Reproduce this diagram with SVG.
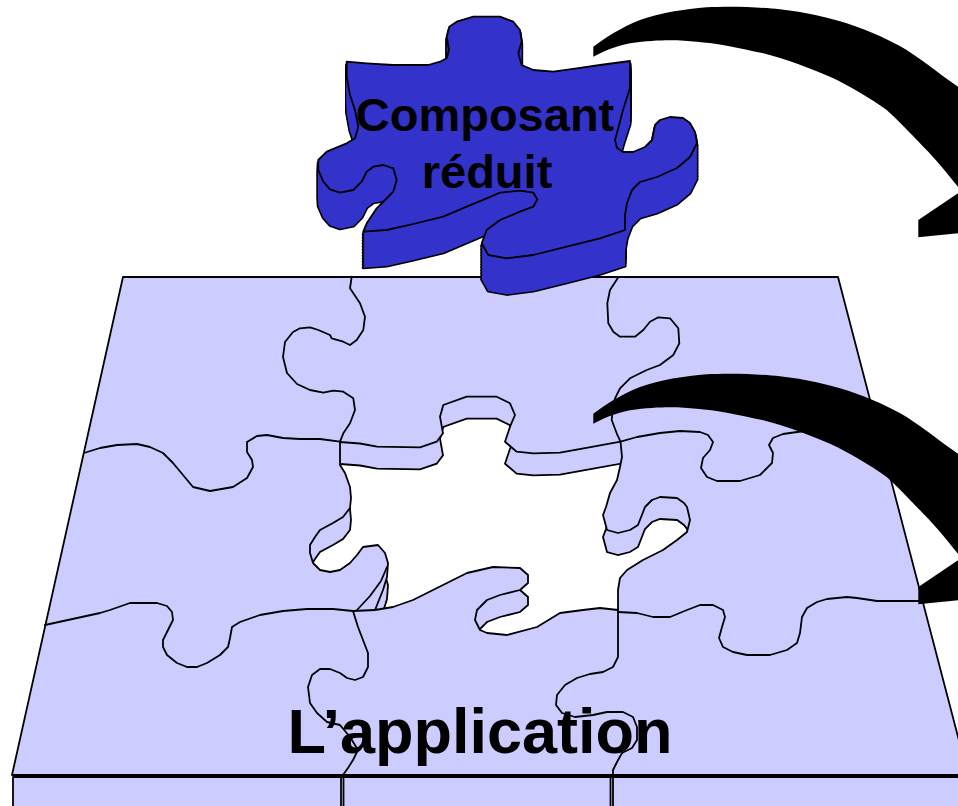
<svg xmlns="http://www.w3.org/2000/svg" xmlns:xlink="http://www.w3.org/1999/xlink" width="958" height="806" viewBox="0 0 958 806">
  <defs>
    <style>
      .face { fill: #CCCCFF; stroke: #000; stroke-width: 1.8; stroke-linejoin: round; }
      .cut { fill: none; stroke: #000; stroke-width: 1.8; stroke-linejoin: round; stroke-linecap: round; }
      .label { font-family: "Liberation Sans", Arial, sans-serif; font-weight: bold; fill: #000; text-anchor: middle; }
      .sil { fill: #000; stroke: #000; stroke-width: 3.2; stroke-linejoin: round; }
      .body { fill: #3333CC; stroke: none; }
      .top { fill: #3333CC; stroke: #000; stroke-width: 1.8; stroke-linejoin: round; }
      .arrow { fill: #000; stroke: none; }
    </style>
    <!-- outline of the missing piece on the board surface -->
    <path id="holeShape" d="M340,442 L360,443.5 L377,446.7 L420,447.3 L436.7,441.7 L443,433.3 L440,416.7 L443.3,405 L466.7,396.7 L496.7,396.7 L510,403.3 L515,415 L510,426.7 L505,441.7 L516.7,451.7 L533.3,453.3 L560,452.7 L593.3,446.7 L620.5,441.7 L622,457 L620,467 L617,480 L610,493 L606,507 L603,515 L607,530 L618,533 L630,530 L638,525 L645,507 L652,500 L660,497 L677,498 L684,503 L687,507 L690,520 L687,532 L677,540 L663,550 L643,560 L627,570 L620,578 L618,590 L618,610 L600,608 L583,610 L560,613 L537,627 L507,635 L487,633 L480,630 L475,620 L477,610 L487,600 L500,595 L520,590 L528,583 L528,575 L520,568 L493,567 L467,573 L433,590 L413,600 L393,607 L375,610 L383,590 L387,577 L388,563 L385,553 L378,545 L363,547 L357,555 L350,563 L340,570 L330,572 L320,570 L313,563 L310,553 L310,545 L315,537 L320,530 L333,523 L343,517 L350,508 L351,498 L350,487 L345,473 L340,465 Z"/>
    <clipPath id="holeClip">
      <use xlink:href="#holeShape"/>
    </clipPath>
    <!-- top face of the loose piece -->
    <path id="pieceShape" d="M346.7,61.7 L366.7,63.3 L393.3,65 L428.3,65 L440,61.7 L446.7,58.3 L449,50 L446.7,36.7 L449.3,26.7 L456.7,21.7 L473.3,16.7 L500,16.7 L513.3,21.7 L520,30 L521.7,41.7 L518.3,53.3 L521.7,65 L533.3,70 L553.3,71.7 L576.7,68.3 L600,65 L630,61 L630,88 L623,110 L617,133 L615,140 L617,148 L623,152 L633,152 L645,147 L652,140 L655,125 L660,120 L670,117 L683,118 L690,123 L695,132 L697,143 L690,157 L677,168 L657,177 L640,182 L632,190 L627,203 L625,215 L625,230 L600,238.3 L566.7,246.7 L533.3,255 L506.7,258.3 L488.3,255 L481.7,243.3 L486.7,230 L500,220 L520,211.7 L533.3,206.7 L537.3,199.3 L533.3,192.7 L520,190.7 L500,192.7 L486.7,198.3 L466.7,206.7 L443.3,216.7 L413.3,224 L386.7,230 L363.3,231.7 L366.7,223.3 L376.7,208.3 L385,200 L393.3,191.7 L396.7,180 L393.3,168.3 L383.3,165 L373.3,166.7 L366.7,171.7 L361.7,181.7 L353.3,190 L340,192.7 L330,189.3 L323.3,181.7 L318.3,170 L318.3,160 L326.7,151.7 L346.7,143.3 L355,138.3 L358.3,126.7 L355,110 L350,95 L346.7,76.7 Z"/>
    <!-- curved black arrow -->
    <path id="arrowShape" d="M593.3,46.7 C605,38 620,28 640,20 C660,13 685,9 706.7,7.3 C730,6 760,7 780,9.3 C805,12 830,18 846.7,23.3 C870,31 890,40 906.7,50 C925,62 945,78 958,86.7 L985,108 L1005,140 L1005,230 L958,233.3 L918.3,237.3 L918.3,220 L958,193.3 L963,190 L958,186.7 C950,177 935,158 923.3,146.7 C910,133 898,120 886.7,110 C870,98 850,86 830,76.7 C810,68 785,59 763.3,53.3 C740,48 715,43 696.7,41.7 C680,40 660,39 630,43.3 C615,46 600,53 593.3,56.7 Z"/>
  </defs>

  <!-- the assembled board -->
  <g id="board">
    <path class="face" d="M123,277 L838,277 L968,775 L12,775 Z"/>
    <!-- opening left by the missing piece: floor seen through, with walls -->
    <g clip-path="url(#holeClip)">
      <use xlink:href="#holeShape" transform="translate(0,22)" fill="#FFFFFF" stroke="#000" stroke-width="1.8"/>
    </g>
    <use xlink:href="#holeShape" fill="none" stroke="#000" stroke-width="1.8" stroke-linejoin="round"/>
    <path class="cut" d="M357,610 L370,596 L381,581 L387,567"/>
    <!-- cut lines between the pieces -->
    <path class="cut" d="M351.7,276.7 L350,288.3 L360,303.3 L365,316.7 L363.3,330 L356.7,340 L350,345 L343.3,341.7 L331.7,338.3 L330,335 L318.3,330 L310,327.3 L300,328.3 L293,332 L285,342 L283,357 L287,373 L297,384 L310,390 L323.3,392.7 L333.3,390.7 L343.3,391.7 L353.3,398.3 L355,410 L350,423.3 L343.3,433.3 L340,441.7"/>
    <path class="cut" d="M618.3,277.3 L610,290 L607.3,303.3 L608.3,323.3 L613.3,331.7 L620,336.7 L635,336.7 L643.3,330 L650,321.7 L658.3,317.3 L670,318.3 L678.3,328.3 L679.3,343.3 L673.3,355 L660,365 L646.7,370 L630,378.3 L620,388.3 L615,398.3 L612.7,410 L611.7,420 L616.7,433.3 L620.5,441.7"/>
    <path class="cut" d="M84,453 L100,448 L117,445 L137,444 L150,447 L163,453 L173,463 L183,475 L193,487 L210,491 L233,487 L247,478 L253,467 L252,460 L247,452 L247,442 L257,436 L267,435 L283,438 L300,439 L320,439 L340,441.7"/>
    <path class="cut" d="M620.5,441.7 L637,437 L660,433 L680,431 L700,432 L708,435 L713,442 L710,450 L703,458 L701,468 L707,477 L717,481 L740,481 L760,475 L772,463 L773,453 L769,445 L773,438 L783,434 L797,432 L830,428 L876,423"/>
    <path class="cut" d="M45,625 L100,613 L110,610 L130,603 L157,603 L167,606 L172,612 L173,620 L168,630 L163,640 L163,647 L167,655 L177,663 L187,667 L197,667 L207,663 L220,655 L228,647 L230,638 L232,627 L240,622 L260,615 L283,611 L307,609 L333,609 L353,611 L375,610"/>
    <path class="cut" d="M353,611 L358,627 L363,640 L368,653 L368,667 L363,677 L355,680 L347,678 L340,673 L330,669 L320,669 L312,675 L308,687 L310,703 L317,713 L327,722 L340,725 L350,737 L358,750 L353,760 L348,768 L343,775"/>
    <path class="cut" d="M618,610 L618,640 L618,657 L613,667 L603,672 L590,674 L577,678 L565,685 L557,695 L556,705 L562,713 L575,717 L593,715 L607,712 L623,712 L633,717 L637,727 L637,740 L632,748 L622,753 L617,762 L613,770 L613,775"/>
    <path class="cut" d="M618,612 L637,613 L653,617 L670,617 L687,610 L700,605 L713,605 L723,610 L725,617 L722,627 L719,638 L723,647 L733,652 L747,655 L770,655 L787,650 L797,643 L800,633 L802,617 L807,608 L817,602 L827,599 L847,597 L857,598 L877,601 L923,601"/>
    <!-- front edge of the board -->
    <path class="face" d="M13,777 L975,777 L975,812 L13,812 Z"/>
    <path class="cut" d="M341,777 L341,806 M343.5,777 L343.5,806 M610.5,777 L610.5,806 M613,777 L613,806"/>
    <text class="label" x="480" y="753" font-size="63">L’application</text>
  </g>

  <!-- the loose piece, extruded downwards -->
  <g id="piece">
    <g>
      <use xlink:href="#pieceShape" class="sil" transform="translate(0,36)"/>
      <use xlink:href="#pieceShape" class="sil" transform="translate(0,33)"/>
      <use xlink:href="#pieceShape" class="sil" transform="translate(0,30)"/>
      <use xlink:href="#pieceShape" class="sil" transform="translate(0,27)"/>
      <use xlink:href="#pieceShape" class="sil" transform="translate(0,24)"/>
      <use xlink:href="#pieceShape" class="sil" transform="translate(0,21)"/>
      <use xlink:href="#pieceShape" class="sil" transform="translate(0,18)"/>
      <use xlink:href="#pieceShape" class="sil" transform="translate(0,15)"/>
      <use xlink:href="#pieceShape" class="sil" transform="translate(0,12)"/>
      <use xlink:href="#pieceShape" class="sil" transform="translate(0,9)"/>
      <use xlink:href="#pieceShape" class="sil" transform="translate(0,6)"/>
      <use xlink:href="#pieceShape" class="sil" transform="translate(0,3)"/>
    </g>
    <g>
      <use xlink:href="#pieceShape" class="body" transform="translate(0,36)"/>
      <use xlink:href="#pieceShape" class="body" transform="translate(0,33)"/>
      <use xlink:href="#pieceShape" class="body" transform="translate(0,30)"/>
      <use xlink:href="#pieceShape" class="body" transform="translate(0,27)"/>
      <use xlink:href="#pieceShape" class="body" transform="translate(0,24)"/>
      <use xlink:href="#pieceShape" class="body" transform="translate(0,21)"/>
      <use xlink:href="#pieceShape" class="body" transform="translate(0,18)"/>
      <use xlink:href="#pieceShape" class="body" transform="translate(0,15)"/>
      <use xlink:href="#pieceShape" class="body" transform="translate(0,12)"/>
      <use xlink:href="#pieceShape" class="body" transform="translate(0,9)"/>
      <use xlink:href="#pieceShape" class="body" transform="translate(0,6)"/>
      <use xlink:href="#pieceShape" class="body" transform="translate(0,3)"/>
    </g>
    <use xlink:href="#pieceShape" class="top"/>
    <text class="label" x="485" y="131" font-size="47">Composant</text>
    <text class="label" x="487" y="188" font-size="47">réduit</text>
  </g>

  <!-- curved arrows -->
  <g id="connectors">
    <use xlink:href="#arrowShape" class="arrow"/>
    <use xlink:href="#arrowShape" class="arrow" transform="translate(0,367)"/>
  </g>
</svg>
